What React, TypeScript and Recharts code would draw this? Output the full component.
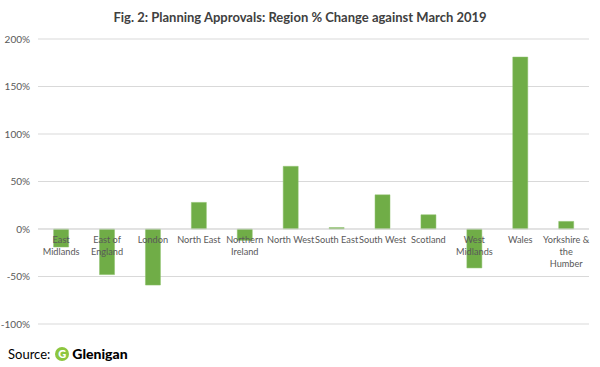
import React from 'react';
import { BarChart, Bar, XAxis, YAxis, CartesianGrid, ReferenceLine, LabelList } from 'recharts';

// Regions and % change against March 2019
const regions = [
  'East Midlands',
  'East of England',
  'London',
  'North East',
  'Northern Ireland',
  'North West',
  'South East',
  'South West',
  'Scotland',
  'West Midlands',
  'Wales',
  'Yorkshire & the Humber',
];
const changes = [-19, -48, -59, 28, -12, 66, 1.5, 36, 15, -41, 181, 8];
// how Excel wrapped the category labels
const tickLines = [
  ['East', 'Midlands'],
  ['East of', 'England'],
  ['London'],
  ['North East'],
  ['Northern', 'Ireland'],
  ['North West'],
  ['South East'],
  ['South West'],
  ['Scotland'],
  ['West', 'Midlands'],
  ['Wales'],
  ['Yorkshire &', 'the', 'Humber'],
];
const yTicks = [-100, -50, 0, 50, 100, 150, 200];

const data = regions.map((name, i) => ({ name, value: changes[i] }));

const W = 600;
const H = 367;
const TOP = 39;
const BOTTOM = 43;
const Y_MIN = -100;
const Y_MAX = 200;
const FONT = 'Lato, "Open Sans", sans-serif';
const TEXT = '#595959';

// Excel puts the category labels right under the zero line, over the bars
const zeroY = TOP + (H - TOP - BOTTOM) * (Y_MAX / (Y_MAX - Y_MIN));

const CategoryLabel = (props: any) => {
  const { x, width, index } = props;
  const cx = x + width / 2;
  const lines = tickLines[index] || [];
  return (
    <text x={cx} y={zeroY + 2} textAnchor="middle" fill={TEXT} fontSize={9.2} fontFamily={FONT}>
      {lines.map((l, i) => (
        <tspan key={i} x={cx} dy={12}>
          {l}
        </tspan>
      ))}
    </text>
  );
};

const App: React.FC = () => {
  return (
    <div style={{ position: 'absolute', left: 0, top: 0, width: W, height: H, background: '#fff', fontFamily: FONT }}>
      <div
        style={{
          position: 'absolute',
          top: 9,
          width: W,
          textAlign: 'center',
          fontSize: 13,
          fontWeight: 700,
          color: '#404040',
        }}
      >
        Fig. 2: Planning Approvals: Region % Change against March 2019
      </div>
      <BarChart
        width={W}
        height={H}
        data={data}
        margin={{ top: TOP, right: 11, bottom: BOTTOM - 1, left: 4 }}
        barCategoryGap="34%"
      >
        <CartesianGrid vertical={false} stroke="#d9d9d9" />
        <XAxis dataKey="name" axisLine={false} tickLine={false} tick={false} height={1} interval={0} />
        <YAxis
          width={34}
          domain={[Y_MIN, Y_MAX]}
          ticks={yTicks}
          tickFormatter={(v) => `${v}%`}
          axisLine={false}
          tickLine={false}
          tick={{ fill: TEXT, fontSize: 10, fontFamily: FONT }}
        />
        <ReferenceLine y={0} stroke="#d9d9d9" />
        <Bar dataKey="value" fill="#70ad47" stroke="#8cc06a" strokeWidth={0.5} isAnimationActive={false}>
          <LabelList dataKey="name" content={CategoryLabel} />
        </Bar>
      </BarChart>
      <div style={{ position: 'absolute', left: 8, top: 345, fontSize: 13, color: '#000', display: 'flex', alignItems: 'center' }}>
        <span style={{ fontWeight: 400 }}>Source:</span>
        <span
          style={{
            marginLeft: 5,
            width: 14,
            height: 14,
            borderRadius: 7,
            background: '#8dc63f',
            color: '#fff',
            fontSize: 11,
            fontWeight: 900,
            display: 'inline-flex',
            alignItems: 'center',
            justifyContent: 'center',
          }}
        >
          G
        </span>
        <span style={{ marginLeft: 3, fontWeight: 900, fontSize: 14 }}>Glenigan</span>
      </div>
    </div>
  );
};

export default App;
